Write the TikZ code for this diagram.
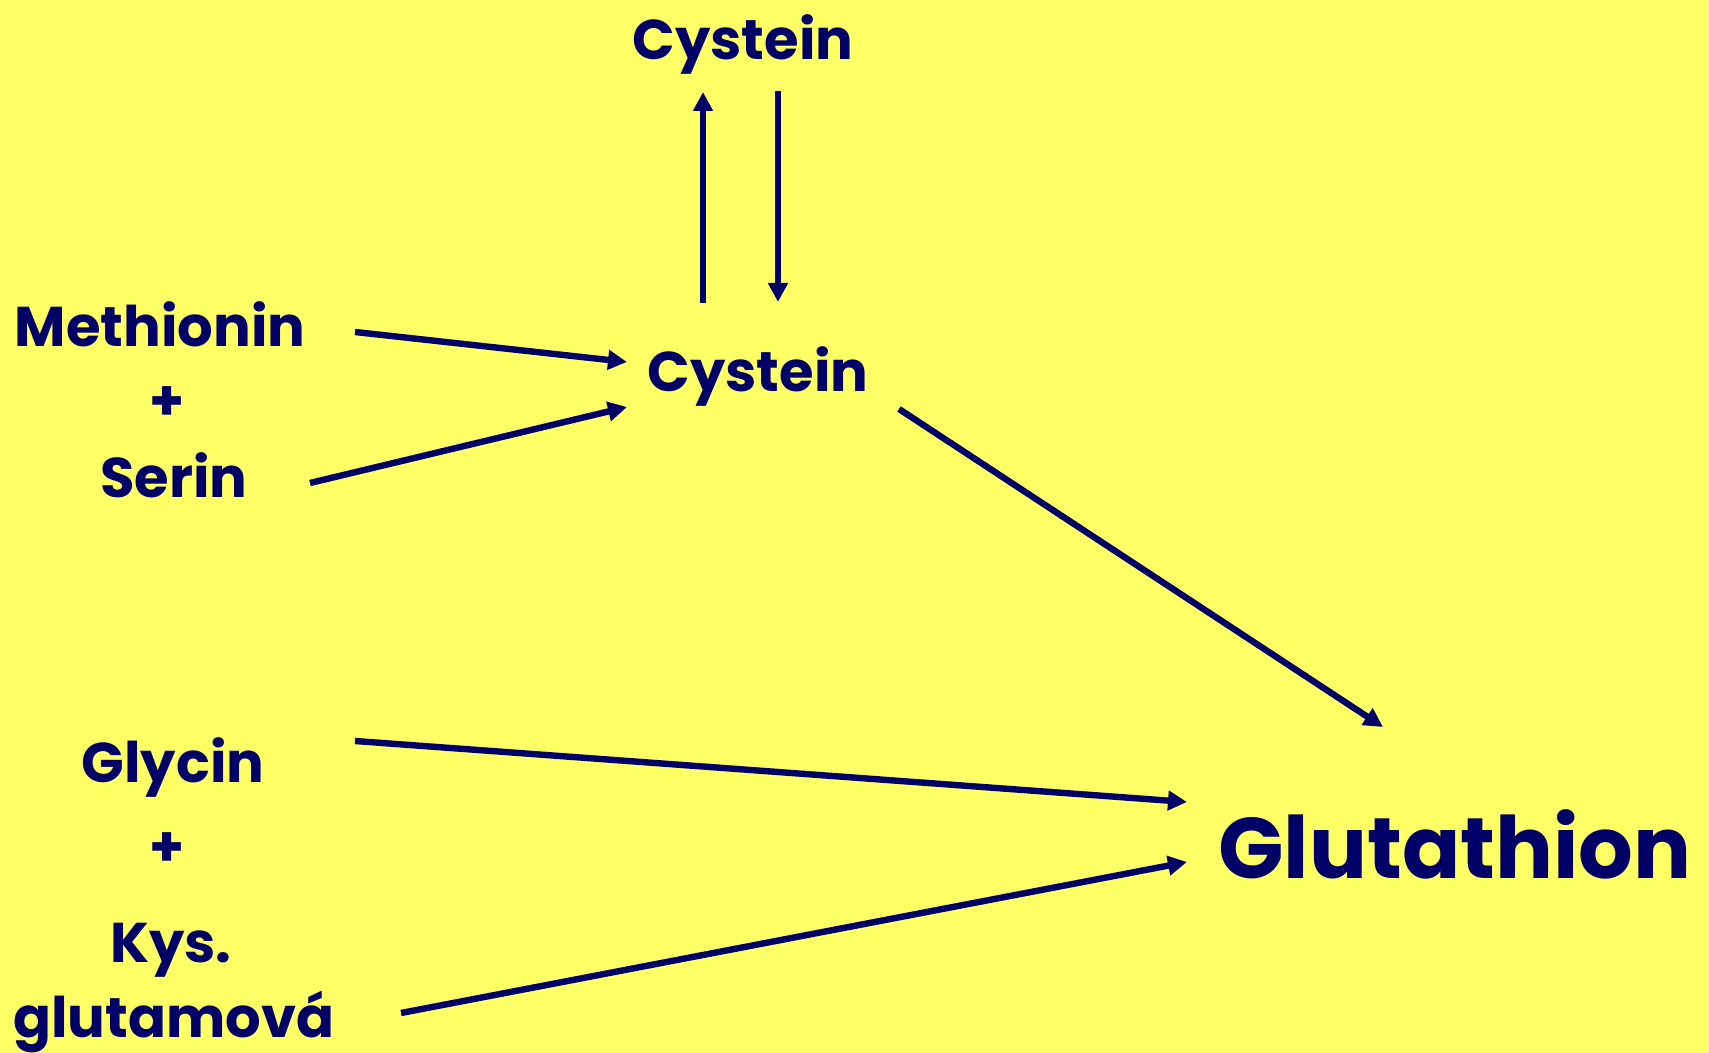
\documentclass[tikz,border=0pt]{standalone}
\usepackage{fontspec}
\setmainfont{Poppins}
\usetikzlibrary{arrows.meta, positioning}

\definecolor{slideyellow}{HTML}{FFFF66}
\definecolor{inkblue}{HTML}{000066}

\begin{document}
\begin{tikzpicture}[
    x=0.5pt, y=-0.5pt,
    label/.style={inner sep=0pt, anchor=base, text=inkblue, font=\fontsize{28}{34}\selectfont\bfseries},
    biglabel/.style={label, font=\fontsize{43}{50}\selectfont\bfseries},
    flow/.style={-{Triangle[length=9.5pt, width=9.5pt]}, line width=3.2pt, draw=inkblue, inkblue},
]

\fill[slideyellow] (0,0) rectangle (1709,1053);
\useasboundingbox (0,0) rectangle (1709,1053);

\node[label] (cystop) at (743,60)   {Cystein};
\node[label] (cysmid) at (758,392)  {Cystein};
\node[label] (met)    at (160,347)  {Methionin};
\node[label, anchor=center] (plusa) at (167,404) {+};
\node[label] (ser)    at (174,498)  {Serin};
\node[label] (gly)    at (173,782)  {Glycin};
\node[label, anchor=center] (plusb) at (167,850) {+};
\node[label] (kys)    at (171,962)  {Kys.};
\node[label] (glu)    at (174,1037) {glutamová};
\node[biglabel] (gsh) at (1455,878) {Glutathion};

% arrow ends
\coordinate (upfrom)   at (703,303);
\coordinate (upto)     at (703,92);
\coordinate (downfrom) at (778,91);
\coordinate (downto)   at (778,302);
\coordinate (metout)   at (355,332);
\coordinate (serout)   at (310,483);
\coordinate (cysina)   at (627,362);
\coordinate (cysinb)   at (627,407);
\coordinate (cysout)   at (899,409);
\coordinate (glyout)   at (355,741);
\coordinate (gluout)   at (401,1013);
\coordinate (gshina)   at (1383,727);
\coordinate (gshinb)   at (1187,802);
\coordinate (gshinc)   at (1187,862);

\draw[flow] (upfrom)   -- (upto);
\draw[flow] (downfrom) -- (downto);
\draw[flow] (metout) -- (cysina);
\draw[flow] (serout) -- (cysinb);
\draw[flow] (cysout) -- (gshina);
\draw[flow] (glyout) -- (gshinb);
\draw[flow] (gluout) -- (gshinc);

\end{tikzpicture}
\end{document}
